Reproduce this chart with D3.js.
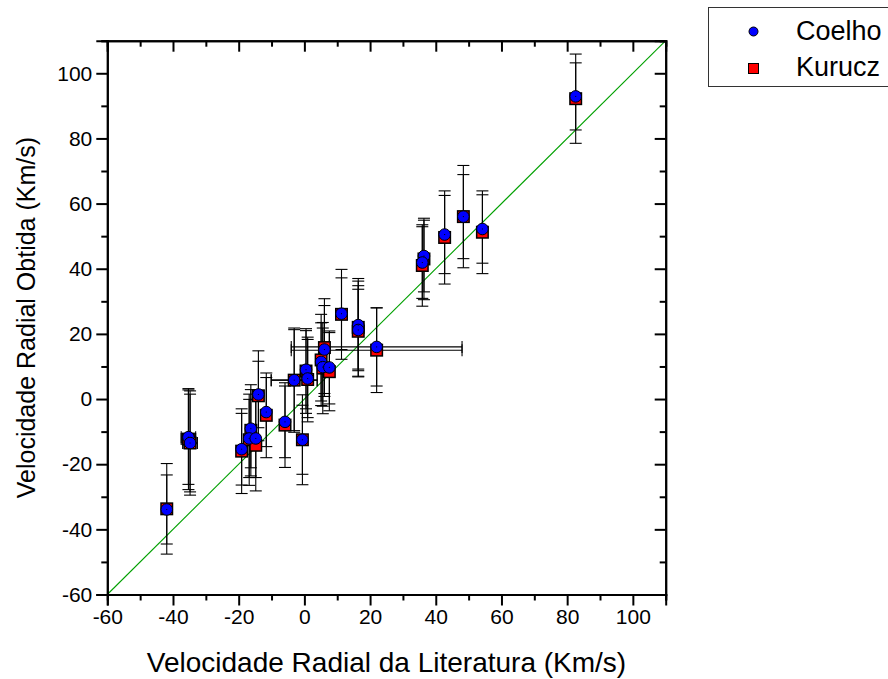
<!DOCTYPE html>
<html>
<head>
<meta charset="utf-8">
<script src="https://cdn.jsdelivr.net/npm/d3@7"></script>
<style>
  body { margin: 0; background: #fff; }
  svg text { font-family: "Liberation Sans", Arial, sans-serif; fill: #000; }
</style>
</head>
<body>
<div id="chart"></div>
<script>
// literature velocity (x) and its error, one entry per star
let litVel = [82.6, 36.4, 35.9, 42.7, 48.4, 54.2, 11.3, 16.4, 16.4, 22.0, 6.1, 5.1, 5.6, 7.6, 0.5, 1.0, -3.1, -14.0, -11.6, -5.9, -0.6, -16.3, -16.8, -14.8, -19.1, -35.3, -34.8, -41.9];
let litErr = [0, 0, 0, 0, 0, 0, 0, 0, 0, 26, 0, 0, 0, 0, 0, 0, 7, 0, 0, 0, 0, 0, 0, 0, 0, 2.2, 2.2, 0];

// obtained velocities, Coelho grid
let coelhoVel = [92.9, 43.9, 41.9, 50.5, 56.0, 52.2, 26.2, 22.7, 21.2, 16.0, 15.2, 11.4, 9.8, 9.7, 9.0, 6.3, 5.8, 1.4, -4.0, -7.0, -12.5, -9.1, -12.1, -12.1, -15.4, -11.7, -13.5, -33.9];
let coelhoErr = [10.3, 11, 11, 12, 12.9, 10.5, 11, 13.5, 12.5, 12, 13.5, 12, 12, 11.2, 12, 12, 15.5, 10.2, 10.6, 11, 10.6, 12, 12, 12, 11, 14.5, 15, 10.6];

// obtained velocities, Kurucz grid
let kuruczVel = [92.2, 43.0, 41.0, 49.6, 56.0, 51.2, 26.0, 22.0, 20.8, 15.0, 15.8, 12.0, 9.5, 8.4, 8.6, 6.0, 5.8, 1.0, -5.0, -8.0, -12.5, -9.6, -12.5, -14.2, -16.0, -12.3, -13.5, -33.7];
let kuruczErr = [13.7, 12.5, 12.5, 14.3, 15.7, 12.7, 13.8, 15, 14, 13, 15, 14, 14, 12, 13, 13, 16, 13.8, 13, 13, 13.8, 14, 14, 14, 13, 15.5, 16, 13.9];

let majorTicks = [-60, -40, -20, 0, 20, 40, 60, 80, 100];
let minorTicks = [-50, -30, -10, 10, 30, 50, 70, 90, 110];
let seriesNames = ["Coelho", "Kurucz"];

let w = 888, h = 679;
let margin = {top: 40.7, right: 222.3, bottom: 84.5, left: 107.3};
let width = w - margin.left - margin.right,
    height = h - margin.top - margin.bottom;

let svg = d3.select("#chart").append("svg")
    .attr("width", w)
    .attr("height", h);

let viz = svg.append("g")
    .attr("transform", "translate(" + margin.left + "," + margin.top + ")");

let xScale = d3.scaleLinear().domain([-60, 110]).range([0, width]);
let yScale = d3.scaleLinear().domain([-60, 110]).range([height, 0]);

// build rows from the arrays
let stars = litVel.map((x, i) => {
  return {x: x, xe: litErr[i], c: coelhoVel[i], ce: coelhoErr[i], k: kuruczVel[i], ke: kuruczErr[i]};
});

// y = x reference line
viz.append("line")
  .attr("x1", xScale(-60)).attr("y1", yScale(-60))
  .attr("x2", xScale(110)).attr("y2", yScale(110))
  .attr("stroke", "#00a000")
  .attr("stroke-width", 1.1);

// error bars, both series
let capW = 6;
let errGroup = viz.append("g").attr("class", "errors")
  .attr("stroke", "#000").attr("stroke-width", 1.1).attr("fill", "none");

function drawErr(key, errKey){
  stars.forEach(d => {
    let cx = xScale(d.x);
    let y1 = yScale(d[key] + d[errKey]), y2 = yScale(d[key] - d[errKey]);
    errGroup.append("line").attr("x1", cx).attr("x2", cx).attr("y1", y1).attr("y2", y2);
    errGroup.append("line").attr("x1", cx - capW).attr("x2", cx + capW).attr("y1", y1).attr("y2", y1);
    errGroup.append("line").attr("x1", cx - capW).attr("x2", cx + capW).attr("y1", y2).attr("y2", y2);
    if(d.xe > 0){
      let cy = yScale(d[key]);
      let x1 = xScale(d.x - d.xe), x2 = xScale(d.x + d.xe);
      errGroup.append("line").attr("x1", x1).attr("x2", x2).attr("y1", cy).attr("y2", cy);
      errGroup.append("line").attr("x1", x1).attr("x2", x1).attr("y1", cy - capW).attr("y2", cy + capW);
      errGroup.append("line").attr("x1", x2).attr("x2", x2).attr("y1", cy - capW).attr("y2", cy + capW);
    }
  });
}
drawErr("k", "ke");
drawErr("c", "ce");

// kurucz squares go underneath
let sq = 11.5;
viz.append("g").selectAll("rect").data(stars).enter()
  .append("rect")
    .attr("x", d => xScale(d.x) - sq/2)
    .attr("y", d => yScale(d.k) - sq/2)
    .attr("width", sq).attr("height", sq)
    .attr("fill", "#ff0000")
    .attr("stroke", "#000")
    .attr("stroke-width", 1.5);

// coelho circles on top
viz.append("g").selectAll("circle").data(stars).enter()
  .append("circle")
    .attr("cx", d => xScale(d.x))
    .attr("cy", d => yScale(d.c))
    .attr("r", 5.8)
    .attr("fill", "#0000ff")
    .attr("stroke", "#000")
    .attr("stroke-width", 1);

// tiny centre dots like origin draws
viz.append("g").selectAll("rect").data(stars).enter()
  .append("rect")
    .attr("x", d => xScale(d.x) - 0.5)
    .attr("y", d => yScale(d.c) - 0.5)
    .attr("width", 1).attr("height", 1)
    .attr("fill", "#000");

// axes: bottom + left outward, top + right inward
function styleAxis(g){
  g.select(".domain").attr("stroke-width", 2);
  g.selectAll(".tick line").attr("stroke-width", 2);
}
let fmt = d => String(d); // plain hyphen, not the unicode minus

let xAxis = d3.axisBottom(xScale).tickValues(majorTicks).tickSize(11).tickPadding(4).tickFormat(fmt);
let xAxisGroup = viz.append("g").attr("transform", "translate(0," + height + ")").call(xAxis);
xAxisGroup.selectAll("text").style("font-size", "21px");
styleAxis(xAxisGroup);
let xMinor = viz.append("g").attr("transform", "translate(0," + height + ")")
  .call(d3.axisBottom(xScale).tickValues(minorTicks).tickSize(6).tickFormat(""));
styleAxis(xMinor);

let yAxis = d3.axisLeft(yScale).tickValues(majorTicks).tickSize(11).tickPadding(4).tickFormat(fmt);
let yAxisGroup = viz.append("g").call(yAxis);
yAxisGroup.selectAll("text").style("font-size", "21px");
styleAxis(yAxisGroup);
let yMinor = viz.append("g")
  .call(d3.axisLeft(yScale).tickValues(minorTicks).tickSize(6).tickFormat(""));
styleAxis(yMinor);

let topMajor = viz.append("g").call(d3.axisBottom(xScale).tickValues(majorTicks).tickSize(11).tickFormat(""));
let topMinor = viz.append("g").call(d3.axisBottom(xScale).tickValues(minorTicks).tickSize(6).tickFormat(""));
let rightMajor = viz.append("g").attr("transform", "translate(" + width + ",0)")
  .call(d3.axisLeft(yScale).tickValues(majorTicks).tickSize(11).tickFormat(""));
let rightMinor = viz.append("g").attr("transform", "translate(" + width + ",0)")
  .call(d3.axisLeft(yScale).tickValues(minorTicks).tickSize(6).tickFormat(""));
[topMajor, topMinor, rightMajor, rightMinor].forEach(styleAxis);

// axis titles
svg.append("text")
  .attr("x", margin.left + width/2)
  .attr("y", 672)
  .attr("text-anchor", "middle")
  .style("font-size", "28px")
  .text("Velocidade Radial da Literatura (Km/s)");

svg.append("text")
  .attr("transform", "translate(35," + (margin.top + height/2) + ") rotate(-90)")
  .attr("text-anchor", "middle")
  .style("font-size", "25px")
  .text("Velocidade Radial Obtida (Km/s)");

// legend, runs off the right edge like the original
let legend = svg.append("g").attr("class", "legend");
legend.append("rect")
  .attr("x", 708.5).attr("y", 7.5)
  .attr("width", 200).attr("height", 79)
  .attr("fill", "#fff")
  .attr("stroke", "#333")
  .attr("stroke-width", 1);
legend.append("circle")
  .attr("cx", 753.5).attr("cy", 31.5).attr("r", 4.5)
  .attr("fill", "#0000ff").attr("stroke", "#000").attr("stroke-width", 1);
legend.append("rect")
  .attr("x", 748.5).attr("y", 63.5).attr("width", 10).attr("height", 10)
  .attr("fill", "#ff0000").attr("stroke", "#000").attr("stroke-width", 1);
legend.selectAll("text.lab").data(seriesNames).enter()
  .append("text")
    .attr("class", "lab")
    .attr("x", 796)
    .attr("y", (d, i) => 40 + i*36)
    .style("font-size", "27px")
    .text(d => d);
</script>
</body>
</html>
